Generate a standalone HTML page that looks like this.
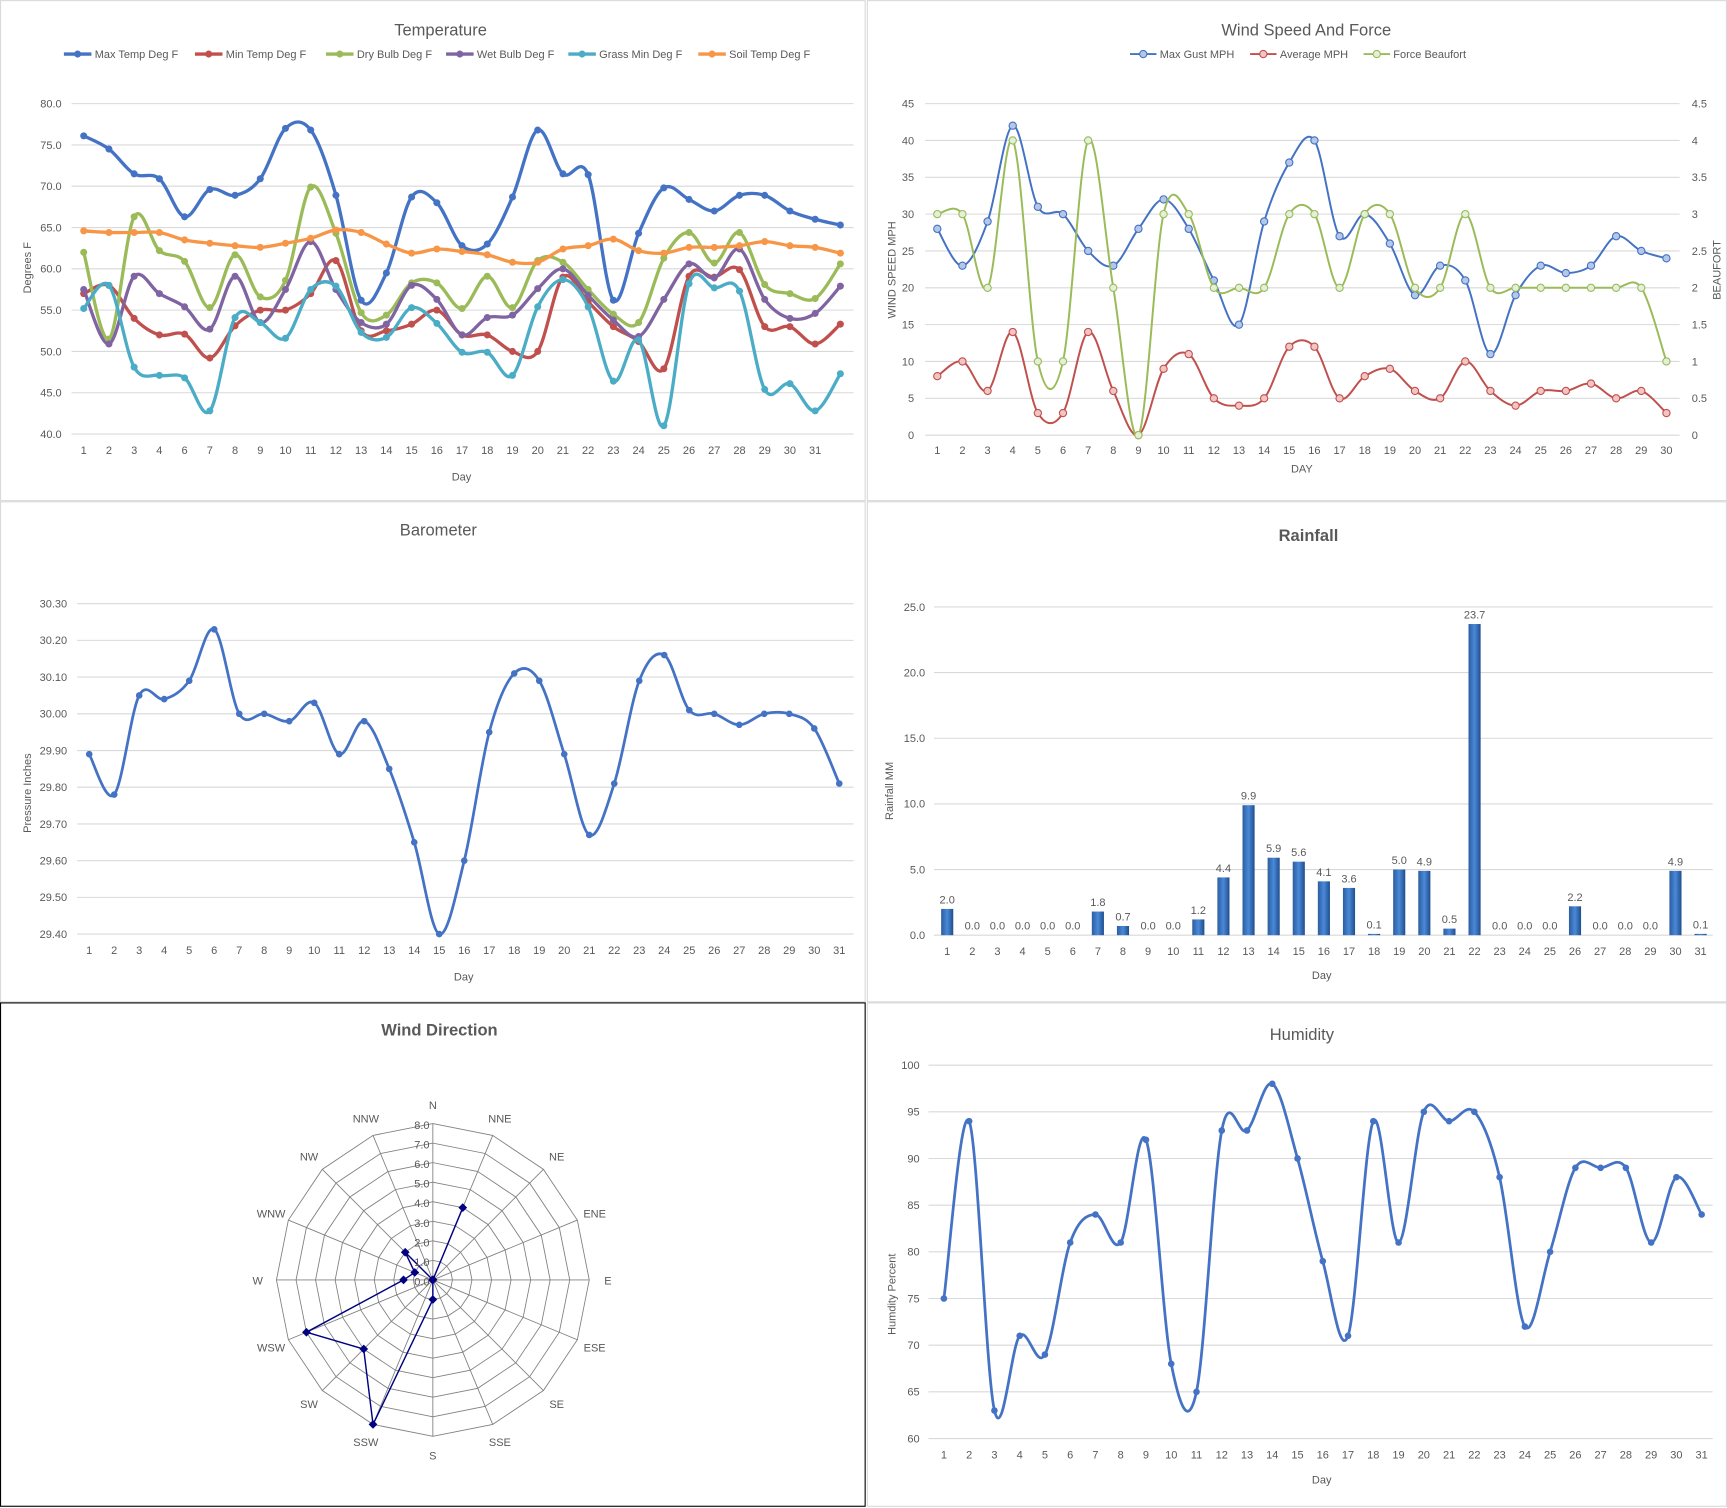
<!DOCTYPE html>
<html><head><meta charset="utf-8">
<style>
html,body{margin:0;padding:0;background:#fff;}
svg{display:block;font-family:"Liberation Sans",sans-serif;}
.t{fill:#595959;font-size:10px;}
.tt{fill:#595959;font-size:15px;}
</style></head>
<body>
<svg id="svg" width="1727" height="1508" viewBox="0 0 1568 1369" xmlns="http://www.w3.org/2000/svg">
<rect x="0" y="0" width="1568" height="1369" fill="#fff"/>
<rect x="0.5" y="0.5" width="785" height="454" fill="none" stroke="#d9d9d9"/>
<rect x="787.5" y="0.5" width="780" height="454" fill="none" stroke="#d9d9d9"/>
<rect x="0.5" y="455.5" width="785" height="454" fill="none" stroke="#d9d9d9"/>
<rect x="787.5" y="455.5" width="780" height="454" fill="none" stroke="#d9d9d9"/>
<rect x="0.5" y="910.5" width="785" height="457" fill="none" stroke="#000"/>
<rect x="787.5" y="910.5" width="780" height="457" fill="none" stroke="#d9d9d9"/>
</svg>
<script>
// ---- Temperature data ----
const tempDays = ["1","2","3","4","6","7","8","9","10","11","12","13","14","15","16","17","18","19","20","21","22","23","24","25","26","27","28","29","30","31",""];
const tempTicks = [40,45,50,55,60,65,70,75,80];
const maxTemp = [76.1,74.5,71.5,70.9,66.3,69.6,68.9,70.9,77.0,76.8,68.9,56.2,59.5,68.7,68.0,62.8,63.0,68.7,76.8,71.5,71.4,56.2,64.3,69.8,68.4,67.0,68.9,68.9,67.0,66.0,65.3];
const minTemp = [57.0,58.0,54.0,52.0,52.1,49.2,53.1,55.0,55.0,57.0,61.0,52.5,52.5,53.3,55.0,52.0,52.0,50.0,50.0,59.0,56.0,53.0,51.2,47.9,59.1,59.0,59.9,53.0,53.0,50.9,53.3];
const dryBulb = [62.0,51.5,66.3,62.2,60.9,55.3,61.7,56.6,58.6,69.9,64.3,54.7,54.4,58.3,58.3,55.2,59.1,55.3,61.0,60.8,57.5,54.5,53.5,61.3,64.4,60.7,64.4,58.1,57.0,56.4,60.6];
const wetBulb = [57.5,50.9,59.1,57.0,55.4,52.7,59.1,53.5,57.5,63.3,57.5,53.5,53.3,58.0,56.3,52.0,54.1,54.4,57.6,60.0,56.8,53.8,51.8,56.3,60.6,58.9,62.4,56.3,54.0,54.6,57.9];
const grassMin = [55.2,58.0,48.1,47.1,46.8,42.8,54.1,53.5,51.6,57.5,57.9,52.3,51.7,55.3,53.4,49.9,49.9,47.1,55.4,58.7,55.4,46.4,51.4,41.0,58.2,57.7,57.3,45.4,46.1,42.8,47.3];
const soilTemp = [64.6,64.4,64.4,64.4,63.5,63.1,62.8,62.6,63.1,63.7,64.7,64.4,63.0,61.9,62.4,62.1,61.7,60.8,60.8,62.4,62.8,63.6,62.2,61.9,62.6,62.6,62.8,63.3,62.8,62.6,61.9];
// ---- Wind data ----
const windDays = ["1","2","3","4","5","6","7","8","9","10","11","12","13","14","15","16","17","18","19","20","21","22","23","24","25","26","27","28","29","30"];
const windTicks = [0,5,10,15,20,25,30,35,40,45];
const beaufortTicks = ["0","0.5","1","1.5","2","2.5","3","3.5","4","4.5"];
const maxGust = [28,23,29,42,31,30,25,23,28,32,28,21,15,29,37,40,27,30,26,19,23,21,11,19,23,22,23,27,25,24];
const avgMph = [8,10,6,14,3,3,14,6,0,9,11,5,4,5,12,12,5,8,9,6,5,10,6,4,6,6,7,5,6,3];
const beaufort = [3,3,2,4,1,1,4,2,0,3,3,2,2,2,3,3,2,3,3,2,2,3,2,2,2,2,2,2,2,1];
// ---- Barometer ----
const baroDays = Array.from({length:31},(_, i)=>String(i+1));
const baroTicks = [29.4,29.5,29.6,29.7,29.8,29.9,30.0,30.1,30.2,30.3];
const pressure = [29.89,29.78,30.05,30.04,30.09,30.23,30.00,30.00,29.98,30.03,29.89,29.98,29.85,29.65,29.40,29.60,29.95,30.11,30.09,29.89,29.67,29.81,30.09,30.16,30.01,30.00,29.97,30.00,30.00,29.96,29.81];
// ---- Rainfall ----
const rainTicks = [0,5,10,15,20,25];
const rainfall = [2.0,0,0,0,0,0,1.8,0.7,0,0,1.2,4.4,9.9,5.9,5.6,4.1,3.6,0.1,5.0,4.9,0.5,23.7,0,0,0,2.2,0,0,0,4.9,0.1];
// ---- Humidity ----
const humTicks = [60,65,70,75,80,85,90,95,100];
const humidity = [75,94,63,71,69,81,84,81,92,68,65,93,93,98,90,79,71,94,81,95,94,95,88,72,80,89,89,89,81,88,84];
// ---- Wind direction ----
const dirLabels = ["N","NNE","NE","ENE","E","ESE","SE","SSE","S","SSW","SW","WSW","W","WNW","NW","NNW"];
const dirValues = [0,4,0,0,0,0,0,0,1,8,5,7,1.5,1,2,0];
const radarTicks = [0,1,2,3,4,5,6,7,8];

const svg = document.getElementById('svg');
const NS = 'http://www.w3.org/2000/svg';
function mk(tag, attrs, parent){const e=document.createElementNS(NS,tag);for(const k in attrs)e.setAttribute(k,attrs[k]);(parent||svg).appendChild(e);return e;}
function txt(x,y,s,cls,anchor,extra){const e=mk('text',Object.assign({x:x,y:y,'class':cls||'t','text-anchor':anchor||'middle'},extra||{}));e.textContent=s;return e;}
function smooth(pts){
  if(pts.length<2)return '';
  let d='M'+pts[0][0]+','+pts[0][1];
  for(let i=0;i<pts.length-1;i++){
    const p0=pts[i-1]||pts[i],p1=pts[i],p2=pts[i+1],p3=pts[i+2]||p2;
    const c1x=p1[0]+(p2[0]-p0[0])/6,c1y=p1[1]+(p2[1]-p0[1])/6;
    const c2x=p2[0]-(p3[0]-p1[0])/6,c2y=p2[1]-(p3[1]-p1[1])/6;
    d+=' C'+c1x.toFixed(1)+','+c1y.toFixed(1)+' '+c2x.toFixed(1)+','+c2y.toFixed(1)+' '+p2[0].toFixed(1)+','+p2[1].toFixed(1);
  }
  return d;
}
function linScale(d0,d1,r0,r1){return v=>r0+(v-d0)/(d1-d0)*(r1-r0);}
function catScale(n,r0,r1){return i=>r0+i*(r1-r0)/(n-1);}

// ===== Temperature =====
(function(){
  const g=mk('g',{});
  
  
  const t=txt(400,32,'Temperature','tt');
  
  
  const xs=catScale(maxTemp.length,76,763), ys=linScale(40,80,394,94);
  tempTicks.forEach(v=>{
    const l=mk('line',{x1:65,x2:775,y1:ys(v),y2:ys(v),stroke:'#d9d9d9','stroke-width':1},g);
    
    
    const tl=txt(56,ys(v)+3.5,v.toFixed(1),'t','end');
    
    
  });
  tempDays.forEach((d,i)=>{if(d){const e=txt(xs(i),412,d);
    
    }});
  const xt=txt(419,436,'Day');
  
  
  const yt=txt(28,243,'Degrees F','t','middle',{transform:'rotate(-90 28 243)'});
  
  
  const series=[['Max Temp Deg F',maxTemp,'#4472c4'],['Min Temp Deg F',minTemp,'#c0504d'],['Dry Bulb Deg F',dryBulb,'#9bbb59'],['Wet Bulb Deg F',wetBulb,'#8064a2'],['Grass Min Deg F',grassMin,'#4bacc6'],['Soil Temp Deg F',soilTemp,'#f79646']];
  const legX=[58,177,296,405,516,634];
  series.forEach((s,k)=>{
    const pts=s[1].map((v,i)=>[xs(i),ys(v)]);
    const p=mk('path',{d:smooth(pts),fill:'none',stroke:s[2],'stroke-width':3,'stroke-linejoin':'round'},g);
    
    
    pts.forEach(q=>{const c=mk('circle',{cx:q[0],cy:q[1],r:3.2,fill:s[2]},g);
      
      });
    const lg=mk('g',{},g);
    
    
    mk('line',{x1:legX[k],x2:legX[k]+25,y1:49,y2:49,stroke:s[2],'stroke-width':3},lg);
    mk('circle',{cx:legX[k]+12.5,cy:49,r:3.2,fill:s[2]},lg);
    const lt=txt(legX[k]+28,52.5,s[0],'t','start');lg.appendChild(lt);
  });
})();

// ===== Wind speed =====
(function(){
  const g=mk('g',{});
  
  
  const t=txt(1186,32,'Wind Speed And Force','tt');
  
  
  const xs=catScale(maxGust.length,851,1513), ys=linScale(0,45,395,94);
  windTicks.forEach((v,i)=>{
    const l=mk('line',{x1:840,x2:1525,y1:ys(v),y2:ys(v),stroke:'#d9d9d9'},g);
    
    
    const a=txt(830,ys(v)+3.5,String(v),'t','end');
    
    
    const b=txt(1536,ys(v)+3.5,beaufortTicks[i],'t','start');
    
    
  });
  windDays.forEach((d,i)=>{const e=txt(xs(i),412,d);
    
    });
  const xt=txt(1182,429,'DAY');
  
  
  const yt=txt(813,245,'WIND SPEED MPH','t','middle',{transform:'rotate(-90 813 245)','font-size':'9'});
  
  
  const yt2=txt(1562,245,'BEAUFORT','t','middle',{transform:'rotate(-90 1562 245)','font-size':'9'});
  
  
  const series=[['Max Gust MPH',maxGust,'#4472c4','#b4c7e7',1],['Average MPH',avgMph,'#c0504d','#f2c4c3',1],['Force Beaufort',beaufort,'#9bbb59','#e2efd9',10]];
  const legX=[1026,1135,1238];
  series.forEach((s,k)=>{
    const pts=s[1].map((v,i)=>[xs(i),ys(v*s[4])]);
    const p=mk('path',{d:smooth(pts),fill:'none',stroke:s[2],'stroke-width':1.8},g);
    
    
    pts.forEach(q=>{const c=mk('circle',{cx:q[0],cy:q[1],r:3.3,fill:s[3],stroke:s[2],'stroke-width':1},g);
      
      });
    const lg=mk('g',{},g);
    
    
    mk('line',{x1:legX[k],x2:legX[k]+24,y1:49,y2:49,stroke:s[2],'stroke-width':1.8},lg);
    mk('circle',{cx:legX[k]+12,cy:49,r:3.3,fill:s[3],stroke:s[2]},lg);
    lg.appendChild(txt(legX[k]+27,52.5,s[0],'t','start'));
  });
})();

// ===== Barometer =====
(function(){
  const g=mk('g',{});
  
  
  const t=txt(398,486,'Barometer','tt');
  
  
  const xs=catScale(pressure.length,81,762), ys=linScale(29.4,30.3,848,548);
  baroTicks.forEach(v=>{
    const l=mk('line',{x1:70,x2:775,y1:ys(v),y2:ys(v),stroke:'#d9d9d9'},g);
    
    
    const a=txt(61,ys(v)+3.5,v.toFixed(2),'t','end');
    
    
  });
  baroDays.forEach((d,i)=>{const e=txt(xs(i),866,d);
    
    });
  const xt=txt(421,890,'Day');
  
  
  const yt=txt(28,720,'Pressure Inches','t','middle',{transform:'rotate(-90 28 720)'});
  
  
  const pts=pressure.map((v,i)=>[xs(i),ys(v)]);
  const p=mk('path',{d:smooth(pts),fill:'none',stroke:'#4472c4','stroke-width':2.5},g);
  
  
  pts.forEach(q=>{const c=mk('circle',{cx:q[0],cy:q[1],r:3,fill:'#4472c4'},g);
    
    });
})();

// ===== Rainfall =====
(function(){
  const g=mk('g',{});
  
  
  const defs=mk('defs',{});
  const lg=mk('linearGradient',{id:'barg',x1:0,x2:1,y1:0,y2:0},defs);
  mk('stop',{offset:'0','stop-color':'#2c5d9f'},lg);
  mk('stop',{offset:'0.5','stop-color':'#4a89d8'},lg);
  mk('stop',{offset:'1','stop-color':'#1f4e8c'},lg);
  const t=txt(1188,491,'Rainfall','tt',null,{'font-weight':'bold','font-size':'16','fill':'#404040'});
  
  
  const xs=catScale(rainfall.length,860,1544), ys=linScale(0,25,849,551);
  rainTicks.forEach(v=>{
    const l=mk('line',{x1:848,x2:1555,y1:ys(v),y2:ys(v),stroke:'#d9d9d9'},g);
    
    
    const a=txt(840,ys(v)+3.5,v.toFixed(1),'t','end');
    
    
  });
  rainfall.forEach((v,i)=>{
    const x=xs(i), y=ys(v);
    const b=mk('rect',{x:x-5.5,y:y,width:11,height:Math.max(ys(0)-y,0.01),fill:'url(#barg)'},g);
    
    
    const lb=txt(x,y-5,v.toFixed(1),'t','middle',{'font-size':'9.5'});
    
    
    const xl=txt(x,867,String(i+1));
    
    
  });
  const xt=txt(1200,889,'Day');
  
  
  const yt=txt(811,718,'Rainfall MM','t','middle',{transform:'rotate(-90 811 718)'});
  
  
})();

// ===== Humidity =====
(function(){
  const g=mk('g',{});
  
  
  const t=txt(1182,944,'Humidity','tt');
  
  
  const xs=catScale(humidity.length,857,1545), ys=linScale(60,100,1306,967);
  humTicks.forEach(v=>{
    const l=mk('line',{x1:843,x2:1555,y1:ys(v),y2:ys(v),stroke:'#d9d9d9'},g);
    
    
    const a=txt(835,ys(v)+3.5,String(v),'t','end');
    
    
  });
  humidity.forEach((v,i)=>{const e=txt(xs(i),1324,String(i+1));
    
    });
  const xt=txt(1200,1347,'Day');
  
  
  const yt=txt(813,1175,'Humdity Percent','t','middle',{transform:'rotate(-90 813 1175)'});
  
  
  const pts=humidity.map((v,i)=>[xs(i),ys(v)]);
  const p=mk('path',{d:smooth(pts),fill:'none',stroke:'#4472c4','stroke-width':2.5},g);
  
  
  pts.forEach(q=>{const c=mk('circle',{cx:q[0],cy:q[1],r:3,fill:'#4472c4'},g);
    
    });
})();

// ===== Wind direction radar =====
(function(){
  const g=mk('g',{});
  
  
  const t=txt(399,940,'Wind Direction','tt',null,{'font-weight':'bold','font-size':'14','fill':'#000'});
  
  
  const cx=393, cy=1162, R=142, maxV=8;
  const rs=linScale(0,maxV,0,R);
  const n=dirLabels.length;
  const ang=i=>(i*2*Math.PI/n);
  const pt=(i,r)=>[cx+r*Math.sin(ang(i)), cy-r*Math.cos(ang(i))];
  radarTicks.slice(1).forEach(v=>{
    const ps=dirLabels.map((_,i)=>pt(i,rs(v)).map(a=>a.toFixed(1)).join(',')).join(' ');
    const pg=mk('polygon',{points:ps,fill:'none',stroke:'#808080','stroke-width':0.8},g);
    
    
  });
  dirLabels.forEach((d,i)=>{
    const e=pt(i,R);
    const l=mk('line',{x1:cx,y1:cy,x2:e[0],y2:e[1],stroke:'#808080','stroke-width':0.8},g);
    
    
    const lp=pt(i,R+17);
    const lt=txt(lp[0],lp[1]+4,d,'t','middle',{'font-size':'11.5','fill':'#000'});
    
    
  });
  radarTicks.forEach(v=>{
    const a=txt(cx-13,cy-rs(v)+5,v.toFixed(1),'t','end',{'font-size':'11.5','fill':'#000'});
    a.setAttribute('x',cx-3);
    
    
  });
  const pts=dirValues.map((v,i)=>pt(i,rs(v)));
  const pg=mk('polygon',{points:pts.map(p=>p[0].toFixed(1)+','+p[1].toFixed(1)).join(' '),fill:'none',stroke:'#000080','stroke-width':1.3},g);
  
  
  pts.forEach(p=>{const m=mk('rect',{x:p[0]-2.8,y:p[1]-2.8,width:5.6,height:5.6,fill:'#000080',transform:'rotate(45 '+p[0]+' '+p[1]+')'},g);
    
    });
})();
</script>
</body></html>
